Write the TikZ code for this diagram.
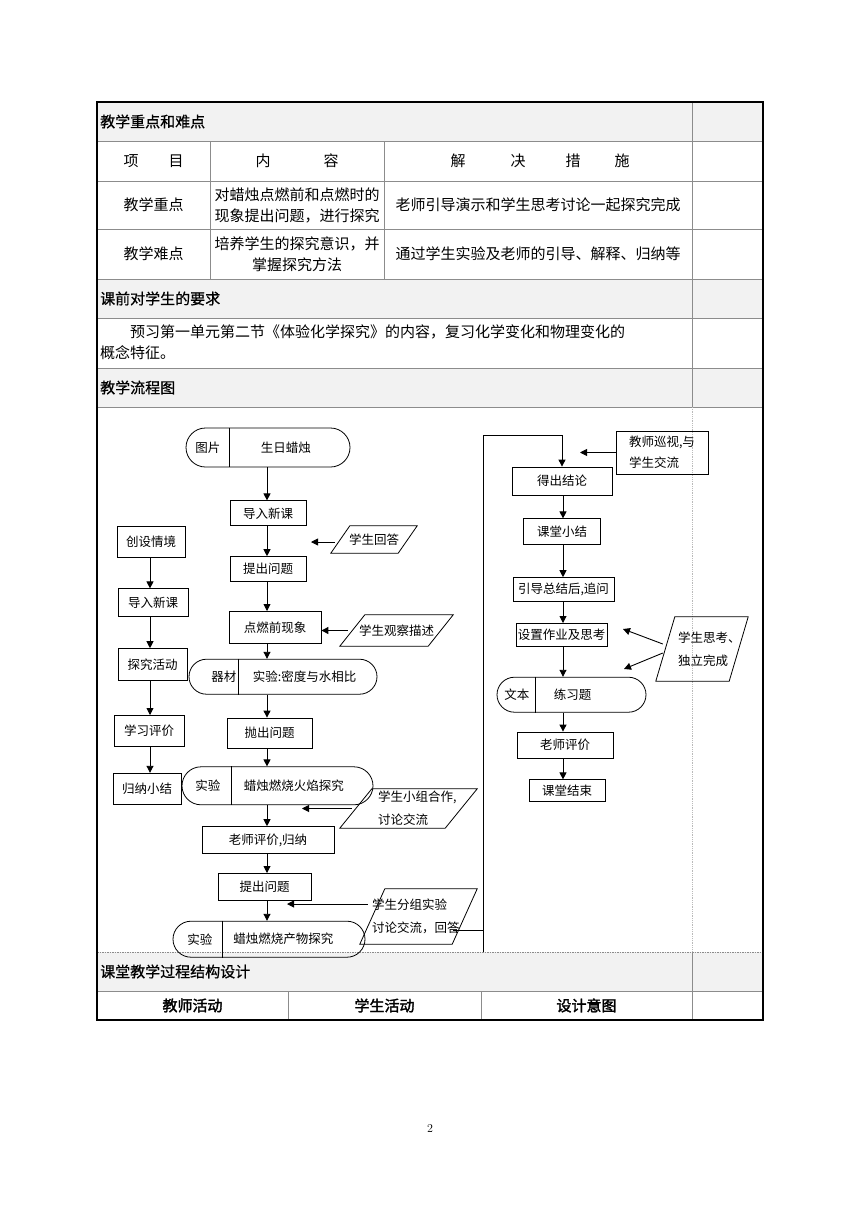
\documentclass[tikz,border=0pt]{standalone}
\usepackage{fontspec}
\newfontfamily\cjk{Noto Sans CJK SC}
\newfontfamily\cjkhead[FakeBold=0.8]{Noto Sans CJK SC}
\newfontfamily\cjkbold[FakeBold=2]{Noto Sans CJK SC}
\usepackage{tikz}
\usetikzlibrary{shapes.geometric, shapes.misc, arrows.meta, positioning}

\definecolor{rulegray}{HTML}{8C8C8C}
\definecolor{headfill}{HTML}{F2F2F2}

\begin{document}
\begin{tikzpicture}[
    x=1pt, y=-1pt,
    node distance=30pt,
    box/.style={rectangle, draw, line width=0.8pt, inner sep=0pt, font=\cjk\fontsize{12.5}{15}\selectfont},
    term/.style={rounded rectangle, draw, line width=0.8pt, inner sep=0pt},
    io/.style={inner sep=0pt, align=left, font=\cjk\fontsize{12.5}{23}\selectfont,
        append after command={\pgfextra{\draw[line width=0.8pt] ([xshift=#1]\tikzlastnode.north west) -- (\tikzlastnode.north east) -- ([xshift=-#1]\tikzlastnode.south east) -- (\tikzlastnode.south west) -- cycle;}}},
    ftext/.style={inner sep=0pt, font=\cjk\fontsize{12.5}{15}\selectfont},
    arrow/.style={-{Triangle[length=7pt, width=7pt]}, line width=0.9pt},
    cell/.style={inner sep=0pt, align=center, font=\cjk\fontsize{15}{21}\selectfont},
    head/.style={inner sep=0pt, anchor=west, font=\cjkhead\fontsize{15}{22}\selectfont},
    tabline/.style={rulegray, line width=0.9pt},
]
    \fill[white] (0,0) rectangle (860,1216);
    \useasboundingbox (0,0) rectangle (860,1216);

    % Table frame
    \fill[headfill] (97,102) rectangle (763,141);
    \fill[headfill] (97,279) rectangle (763,318);
    \fill[headfill] (97,368) rectangle (763,407);
    \fill[headfill] (97,952) rectangle (763,991);
    \foreach \y in {141,181,229,279,318,368,407,991}
        \draw[tabline] (97,\y) -- (763,\y);
    \draw[tabline, dash pattern=on 1.5pt off 1pt] (97,952) -- (763,952);
    \draw[tabline] (692,102) -- (692,407);
    \draw[rulegray!60, line width=0.8pt, densely dotted] (692,407) -- (692,952);
    \draw[tabline] (692,952) -- (692,1020);
    \foreach \x in {210,384}
        \draw[tabline] (\x,141) -- (\x,279);
    \foreach \x in {288,481}
        \draw[tabline] (\x,991) -- (\x,1020);
    \draw[line width=2pt] (97,102) rectangle (763,1020);

    % Table texts
    \node[head] (hKey) at (100,121.5) {教学重点和难点};
    \node[cell] (cItem) at (153.5,161) {项\hspace{30pt}目};
    \node[cell] (cCont) at (297,161) {内\hspace{53pt}容};
    \node[cell, anchor=west] (cMeas) at (450.5,161) {解\hspace{45pt}决\hspace{40pt}措\hspace{34pt}施};
    \node[cell] (kName) at (153.5,205) {教学重点};
    \node[cell] (kCont) at (297,205) {对蜡烛点燃前和点燃时的\\现象提出问题，进行探究};
    \node[cell] (kMeas) at (538,205) {老师引导演示和学生思考讨论一起探究完成};
    \node[cell] (dName) at (153.5,254) {教学难点};
    \node[cell] (dCont) at (297,254) {培养学生的探究意识，并\\掌握探究方法};
    \node[cell] (dMeas) at (538,254) {通过学生实验及老师的引导、解释、归纳等};
    \node[head] (hPrep) at (100,298.5) {课前对学生的要求};
    \node[cell, anchor=west, align=left] (prepTxt) at (100,342) {\hspace{30pt}预习第一单元第二节《体验化学探究》的内容，复习化学变化和物理变化的\\概念特征。};
    \node[head] (hFlow) at (100,387.5) {教学流程图};
    \node[head] (hProc) at (100,971.5) {课堂教学过程结构设计};
    \node[cell, font=\cjkbold\fontsize{15}{21}\selectfont] (tAct) at (192.5,1005.5) {教师活动};
    \node[cell, font=\cjkbold\fontsize{15}{21}\selectfont] (sAct) at (384.5,1005.5) {学生活动};
    \node[cell, font=\cjkbold\fontsize{15}{21}\selectfont] (aim) at (586.5,1005.5) {设计意图};

    % Middle column
    \node[term, minimum width=164pt, minimum height=39pt] (cake) at (268,447.5) {};
    \node[ftext, right=9.5pt of cake.west] (cakeTag) {图片};
    \coordinate[right=44pt of cake.west] (cakeDiv);
    \node[ftext, right=75pt of cake.west] (cakeTxt) {生日蜡烛};
    \node[box, minimum width=76pt, minimum height=25pt, below=33pt of cake] (intro) {导入新课};
    \node[box, minimum width=76pt, minimum height=25pt, below=30pt of intro] (ask1) {提出问题};
    \node[box, minimum width=92pt, minimum height=32pt, below=29pt of ask1, xshift=7pt] (before) {点燃前现象};
    \node[term, minimum width=188pt, minimum height=35pt, below=15pt of before, xshift=8pt] (dens) {};
    \node[ftext, right=22.5pt of dens.west] (densTag) {器材};
    \coordinate[right=50pt of dens.west] (densDiv);
    \node[ftext, right=64pt of dens.west] (densTxt) {实验:密度与水相比};
    \node[box, minimum width=85pt, minimum height=30pt, below=23pt of dens, xshift=-13.5pt] (throw) {抛出问题};
    \node[term, minimum width=191pt, minimum height=38pt, below=18pt of throw, xshift=8pt] (flame) {};
    \node[ftext, right=13.5pt of flame.west] (flameTag) {实验};
    \coordinate[right=50pt of flame.west] (flameDiv);
    \node[ftext, right=62pt of flame.west] (flameTxt) {蜡烛燃烧火焰探究};
    \node[box, minimum width=132pt, minimum height=27pt, below=21pt of flame, xshift=-9.5pt] (eval1) {老师评价,归纳};
    \node[box, minimum width=93pt, minimum height=27pt, below=19pt of eval1, xshift=-3.5pt] (ask2) {提出问题};
    \node[term, minimum width=192pt, minimum height=36pt, below=20pt of ask2, xshift=4.5pt] (prod) {};
    \node[ftext, right=14.5pt of prod.west] (prodTag) {实验};
    \coordinate[right=50pt of prod.west] (prodDiv);
    \node[ftext, right=60.5pt of prod.west] (prodTxt) {蜡烛燃烧产物探究};

    \foreach \t in {cake, dens, flame, prod}
        \draw[line width=0.8pt] (\t Div |- \t.north) -- (\t Div |- \t.south);

    \coordinate (midAxis) at (267,0);
    \foreach \a/\b in {cake/intro, intro/ask1, ask1/before, before/dens, dens/throw, throw/flame, flame/eval1, eval1/ask2, ask2/prod}
        \draw[arrow] (\a.south -| midAxis) -- (\b.north -| midAxis);

    % Student inputs
    \node[io=19pt, minimum width=86pt, minimum height=27pt, align=center] (ans1) at (374,539.5) {学生回答};
    \node[io=25pt, minimum width=113pt, minimum height=31pt, align=center] (obs) at (396.5,630.5) {学生观察描述};
    \node[io=32pt, minimum width=137pt, minimum height=39pt, text width=61pt] (grp) at (408.5,808.5) {学生小组合作,\\讨论交流};
    \node[io=25pt, minimum width=117pt, minimum height=55pt, text width=93pt] (grpx) at (418.5,916.5) {学生分组实验\\讨论交流，回答};

    \coordinate (ans1Tip) at (311,542);
    \coordinate (grpTip) at (302,810);
    \coordinate (grpxTip) at (287,904);
    \draw[arrow] ([xshift=4pt]ans1.west |- ans1Tip) -- (ans1Tip);
    \draw[arrow] ([xshift=8pt]obs.west) -- (before.east |- obs.west);
    \draw[arrow] ([xshift=12pt]grp.west) -- (grpTip |- grp.west);
    \draw[arrow] ([xshift=8pt]grpx.west |- grpxTip) -- (grpxTip);

    % Left column
    \node[box, minimum width=68pt, minimum height=31pt] (setup) at (151,541.5) {创设情境};
    \node[box, minimum width=70pt, minimum height=28pt, below=31pt of setup, xshift=2pt] (intro2) {导入新课};
    \node[box, minimum width=69pt, minimum height=32pt, below=31pt of intro2, xshift=-0.5pt] (explore) {探究活动};
    \node[box, minimum width=70pt, minimum height=31pt, below=34pt of explore, xshift=-3.5pt] (assess) {学习评价};
    \node[box, minimum width=68pt, minimum height=31pt, below=26pt of assess, xshift=-2pt] (conclude) {归纳小结};

    \coordinate (leftAxis) at (150,0);
    \foreach \a/\b in {setup/intro2, intro2/explore, explore/assess, assess/conclude}
        \draw[arrow] (\a.south -| leftAxis) -- (\b.north -| leftAxis);

    % Right column
    \node[box, minimum width=92pt, minimum height=43pt, align=left, font=\cjk\fontsize{12.5}{21}\selectfont] (tour) at (662,452.5) {教师巡视,与\\学生交流};
    \node[box, minimum width=100pt, minimum height=28pt] (concl) at (562,481) {得出结论};
    \node[box, minimum width=77pt, minimum height=26pt, below=23pt of concl] (summ) {课堂小结};
    \node[box, minimum width=101pt, minimum height=24pt, below=32pt of summ, xshift=1.5pt] (guide) {引导总结后,追问};
    \node[box, minimum width=91pt, minimum height=23pt, below=21pt of guide, xshift=-2pt] (hw) {设置作业及思考};
    \node[term, minimum width=149pt, minimum height=35pt, below=30pt of hw, xshift=10pt] (drill) {};
    \node[ftext, right=7.5pt of drill.west] (drillTag) {文本};
    \coordinate[right=39pt of drill.west] (drillDiv);
    \node[ftext, right=57pt of drill.west] (drillTxt) {练习题};
    \draw[line width=0.8pt] (drillDiv |- drill.north) -- (drillDiv |- drill.south);
    \node[box, minimum width=96pt, minimum height=26pt, below=19pt of drill, xshift=-6.5pt] (eval2) {老师评价};
    \node[box, minimum width=76pt, minimum height=22pt, below=21pt of eval2, xshift=2pt] (endc) {课堂结束};
    \node[io=19pt, minimum width=92pt, minimum height=64pt, text width=48pt] (thk) at (702,649) {学生思考、\\独立完成};

    \coordinate (rightAxis) at (563,0);
    \foreach \a/\b in {concl/summ, summ/guide, guide/hw, hw/drill, drill/eval2, eval2/endc}
        \draw[arrow] (\a.south -| rightAxis) -- (\b.north -| rightAxis);

    \coordinate (tourTip) at (580,452);
    \coordinate (hwTip) at (623,629);
    \coordinate (drillTip) at (624,669);
    \draw[arrow] (tour.west) -- (tourTip |- tour.west);
    \draw[arrow] ([xshift=7pt, yshift=5pt]thk.west) -- (hwTip);
    \draw[arrow] ([xshift=7pt, yshift=-4pt]thk.west) -- (drillTip);

    % Return line to the right column
    \coordinate (busBot) at (483,952);
    \coordinate (busTop) at (483,435);
    \draw[line width=0.9pt] (busBot) -- (busTop);
    \draw[line width=0.9pt] ([xshift=-24pt, yshift=-13.5pt]grpx.east) coordinate (grpxOut) -- (grpxOut -| busBot);
    \draw[arrow] (busTop) -| (concl.north);

    % Page number
    \node[font=\fontsize{12}{14}\selectfont] (pageNo) at (430,1128) {2};
\end{tikzpicture}
\end{document}
